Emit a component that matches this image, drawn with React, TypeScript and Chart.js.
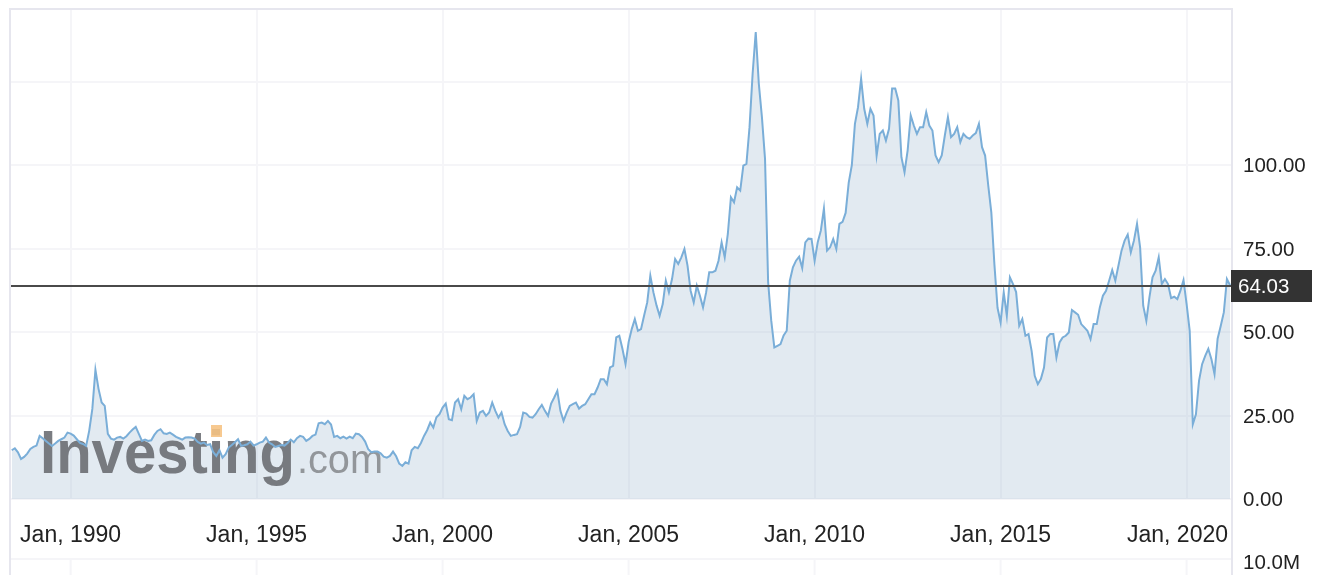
import React, { useEffect, useRef } from 'react';
import { Chart, registerables } from 'chart.js';

Chart.register(...registerables);

// Monthly Brent closes, starting June 1988
const startYear = 1988;
const startMonth = 5; // 0-based: June

const brent1988_1994 = [
  14.6, 15.2, 14.0, 12.0, 12.6, 13.6, 15.0,
  15.6, 16.0, 18.9, 18.2, 17.4, 16.6, 15.9, 16.6, 17.4, 17.9, 18.4, 19.9,
  19.6, 19.0, 17.9, 16.8, 16.5, 15.9, 20.5, 27.0, 38.7, 33.0, 28.9, 27.9,
  19.5, 18.1, 17.8, 18.4, 18.6, 18.1, 18.8, 19.9, 20.8, 21.6, 19.5, 17.4,
  17.8, 17.4, 17.6, 19.2, 20.4, 20.9, 19.7, 19.5, 19.9, 19.3, 18.6, 18.2,
  17.8, 18.4, 18.5, 18.4, 18.1, 17.1, 16.6, 16.9, 16.2, 16.4, 14.0, 12.9,
  14.6, 12.4, 13.4, 15.4, 16.2, 17.0, 17.9, 15.9, 16.1, 16.4, 17.2, 16.0,
];

const brent1995_2001 = [
  16.4, 16.9, 17.2, 18.4, 16.9, 16.4, 15.6, 15.9, 16.2, 16.0, 16.8, 17.8,
  17.0, 18.2, 18.9, 18.6, 17.4, 18.0, 18.9, 19.3, 22.7, 22.9, 22.4, 23.4,
  22.3, 18.6, 18.9, 18.2, 18.7, 18.1, 18.7, 18.2, 19.6, 19.4, 18.6, 17.2,
  14.9, 14.0, 14.2, 14.2, 13.7, 12.7, 12.4, 12.9, 14.2, 12.8, 10.6, 9.9,
  11.0, 10.6, 14.6, 15.6, 15.2, 16.8, 18.9, 20.6, 22.9, 21.4, 24.5, 25.4,
  27.4, 28.6, 23.9, 23.6, 28.9, 29.9, 26.9, 30.9, 29.9, 30.4, 31.4, 23.4,
  25.9, 26.4, 24.9, 25.9, 28.9, 26.4, 24.4, 25.9, 22.4, 20.4, 18.9, 19.2,
];

const brent2002_2008 = [
  19.4, 21.6, 25.9, 25.6, 24.6, 24.4, 25.4, 26.9, 28.2, 26.4, 24.9, 28.6,
  30.4, 32.4, 26.4, 23.4, 25.9, 27.9, 28.4, 28.9, 27.1, 27.9, 28.4, 29.9,
  31.4, 31.4, 33.4, 35.9, 35.9, 34.4, 39.4, 39.9, 48.4, 48.9, 45.0, 40.4,
  47.0, 50.9, 53.9, 50.4, 50.9, 55.0, 58.9, 66.9, 61.9, 58.0, 54.9, 58.4,
  65.4, 61.9, 65.9, 71.9, 70.4, 72.4, 74.9, 69.9, 62.4, 58.9, 63.9, 60.9,
  57.4, 61.9, 67.9, 67.9, 68.4, 71.4, 76.9, 72.4, 79.4, 90.4, 88.9, 93.4,
  92.4, 99.9, 100.4, 111.4, 127.4, 139.9, 124.4, 114.4, 101.9, 65.0, 53.5, 45.4,
];

const brent2009_2014 = [
  45.9, 46.4, 49.0, 50.4, 65.4, 69.4, 71.4, 72.6, 69.2, 76.9, 78.0, 77.9,
  71.4, 76.9, 80.4, 87.0, 74.4, 75.4, 77.9, 74.9, 82.4, 83.0, 85.7, 94.8,
  100.0, 112.4, 117.4, 125.9, 116.9, 112.4, 116.9, 114.9, 102.9, 109.4, 110.4, 107.4,
  110.9, 123.0, 123.0, 119.4, 102.4, 97.9, 104.4, 114.9, 111.9, 109.4, 111.4, 111.4,
  115.9, 111.9, 110.4, 102.9, 100.9, 102.9, 108.9, 114.4, 108.4, 109.4, 111.4, 106.9,
  109.4, 108.4, 107.9, 108.9, 109.6, 112.4, 105.4, 102.9, 94.0, 85.9, 70.2, 57.3,
];

const brent2015_2021 = [
  52.9, 61.9, 54.9, 66.4, 64.4, 62.0, 51.9, 53.9, 48.9, 49.4, 44.4, 36.9,
  34.4, 36.0, 39.4, 48.4, 49.4, 49.4, 42.4, 46.9, 48.4, 48.9, 49.9, 56.6,
  55.9, 55.2, 52.4, 51.4, 50.4, 47.9, 52.4, 52.4, 57.4, 60.9, 62.4, 65.4,
  68.6, 65.4, 69.9, 74.4, 77.4, 79.2, 73.9, 77.4, 82.4, 75.4, 57.9, 53.4,
  60.4, 66.4, 68.4, 72.4, 64.4, 65.9, 64.4, 60.2, 60.6, 59.9, 62.4, 65.6,
  58.4, 50.4, 22.4, 25.4, 35.4, 40.4, 42.9, 45.0, 41.9, 37.4, 48.0, 51.8,
  55.9, 65.9, 64.03,
];

const prices = [
  ...brent1988_1994,
  ...brent1995_2001,
  ...brent2002_2008,
  ...brent2009_2014,
  ...brent2015_2021,
];
const currentPrice = prices[prices.length - 1];

const tickYears = [1990, 1995, 2000, 2005, 2010, 2015, 2020];
const tickLabels = ['Jan, 1990', 'Jan, 1995', 'Jan, 2000', 'Jan, 2005', 'Jan, 2010', 'Jan, 2015', 'Jan, 2020'];
const priceTicks = [0, 25, 50, 75, 100, 125];
const hiddenPriceTicks = [125];
const volumeLabel = '10.0M';
const watermarkMain = 'Investing';
const watermarkSuffix = '.com';

const FONT = '"Liberation Sans", Arial, Helvetica, sans-serif';
const GRID = '#f5f5f8';
const FRAME = '#e6e6ee';
const TEXT = '#222222';

const decorPlugin = {
  id: 'decor',
  beforeDatasetsDraw(chart: any) {
    const ctx = chart.ctx;
    ctx.save();
    ctx.textBaseline = 'alphabetic';
    ctx.textAlign = 'left';
    ctx.globalAlpha = 0.9;
    ctx.fillStyle = '#6b6e73';
    ctx.font = `bold 61px ${FONT}`;
    ctx.fillText(watermarkMain, 40, 473, 255);
    ctx.fillStyle = '#f6c384';
    ctx.fillRect(211, 425, 11, 12);
    ctx.fillStyle = '#8a8d91';
    ctx.font = `40px ${FONT}`;
    ctx.fillText(watermarkSuffix, 297, 473, 86);
    ctx.restore();
  },
  afterDatasetsDraw(chart: any) {
    const ctx = chart.ctx;
    const { left, right } = chart.chartArea;
    const y = Math.round(chart.scales.y.getPixelForValue(currentPrice)) + 1;
    ctx.save();
    ctx.strokeStyle = '#4a4a4a';
    ctx.lineWidth = 2;
    ctx.beginPath();
    ctx.moveTo(left, y);
    ctx.lineTo(right, y);
    ctx.stroke();
    ctx.restore();
  },
  afterDraw(chart: any) {
    const ctx = chart.ctx;
    const { left, right, top, bottom } = chart.chartArea;
    const H = chart.height;
    const volTop = 559;
    ctx.save();
    // volume panel grid
    ctx.strokeStyle = GRID;
    ctx.lineWidth = 2;
    ctx.beginPath();
    ctx.moveTo(left, volTop);
    ctx.lineTo(right, volTop);
    for (const yr of tickYears) {
      const x = chart.scales.x.getPixelForValue(yr);
      ctx.moveTo(x, volTop);
      ctx.lineTo(x, H);
    }
    ctx.stroke();
    // frame
    ctx.strokeStyle = FRAME;
    ctx.lineWidth = 2;
    ctx.beginPath();
    ctx.moveTo(left, H);
    ctx.lineTo(left, top);
    ctx.lineTo(right, top);
    ctx.lineTo(right, H);
    ctx.stroke();
    // x tick labels, kept inside the plot width
    ctx.fillStyle = TEXT;
    ctx.font = `23px ${FONT}`;
    ctx.textAlign = 'center';
    ctx.textBaseline = 'middle';
    tickYears.forEach((yr, i) => {
      const label = tickLabels[i];
      const w = ctx.measureText(label).width;
      let cx = chart.scales.x.getPixelForValue(yr);
      cx = Math.min(cx, right - 4 - w / 2);
      cx = Math.max(cx, left + 4 + w / 2);
      ctx.fillText(label, cx, bottom + 37);
    });
    // volume label
    ctx.font = `20.5px ${FONT}`;
    ctx.textAlign = 'left';
    ctx.fillText(volumeLabel, right + 11, 563);
    // current price label
    const y = Math.round(chart.scales.y.getPixelForValue(currentPrice)) + 1;
    ctx.fillStyle = '#333333';
    ctx.fillRect(right - 1, y - 16, 81, 32);
    ctx.fillStyle = '#ffffff';
    ctx.fillText(currentPrice.toFixed(2), right + 6, y + 1);
    ctx.restore();
  },
};

export default function App() {
  const canvasRef = useRef<HTMLCanvasElement | null>(null);

  useEffect(() => {
    document.body.style.margin = '0';
    const canvas = canvasRef.current;
    if (!canvas) return;
    const points = prices.map((p, i) => ({ x: startYear + (startMonth + i) / 12, y: p }));
    const chart = new Chart(canvas, {
      type: 'line',
      data: {
        datasets: [
          {
            data: points,
            borderColor: '#7aaed8',
            borderWidth: 2,
            backgroundColor: 'rgba(150,180,205,0.28)',
            fill: 'origin',
            pointRadius: 0,
            tension: 0,
          },
        ],
      },
      options: {
        animation: false,
        responsive: false,
        maintainAspectRatio: false,
        devicePixelRatio: 1,
        layout: { padding: { left: 10, top: 9, right: 0, bottom: 16 } },
        plugins: {
          legend: { display: false },
          tooltip: { enabled: false },
          filler: { drawTime: 'beforeDatasetsDraw' },
        },
        scales: {
          x: {
            type: 'linear',
            min: 1988.37,
            max: 2021.22,
            afterBuildTicks: (s: any) => {
              s.ticks = tickYears.map((v) => ({ value: v }));
            },
            afterFit: (s: any) => {
              s.height = 60;
              s.paddingLeft = 0;
              s.paddingRight = 0;
            },
            grid: { color: GRID, lineWidth: 2, drawTicks: false },
            border: { display: false },
            ticks: { display: false, autoSkip: false, maxRotation: 0 },
          },
          y: {
            position: 'right',
            min: 0,
            max: 146.8,
            afterBuildTicks: (s: any) => {
              s.ticks = priceTicks.map((v) => ({ value: v }));
            },
            afterFit: (s: any) => {
              s.width = 86;
              s.paddingTop = 0;
              s.paddingBottom = 0;
            },
            grid: { color: GRID, lineWidth: 2, drawTicks: false },
            border: { display: false },
            ticks: {
              autoSkip: false,
              padding: 11,
              labelOffset: 1.5,
              color: TEXT,
              font: { family: FONT, size: 20.5 },
              callback: (v: any) => (hiddenPriceTicks.includes(Number(v)) ? '' : Number(v).toFixed(2)),
            },
          },
        },
      } as any,
      plugins: [decorPlugin],
    });
    return () => chart.destroy();
  }, []);

  return (
    <div style={{ width: 1318, height: 575, position: 'relative', background: '#fff' }}>
      <canvas ref={canvasRef} width={1318} height={575} style={{ width: 1318, height: 575, display: 'block' }} />
    </div>
  );
}
